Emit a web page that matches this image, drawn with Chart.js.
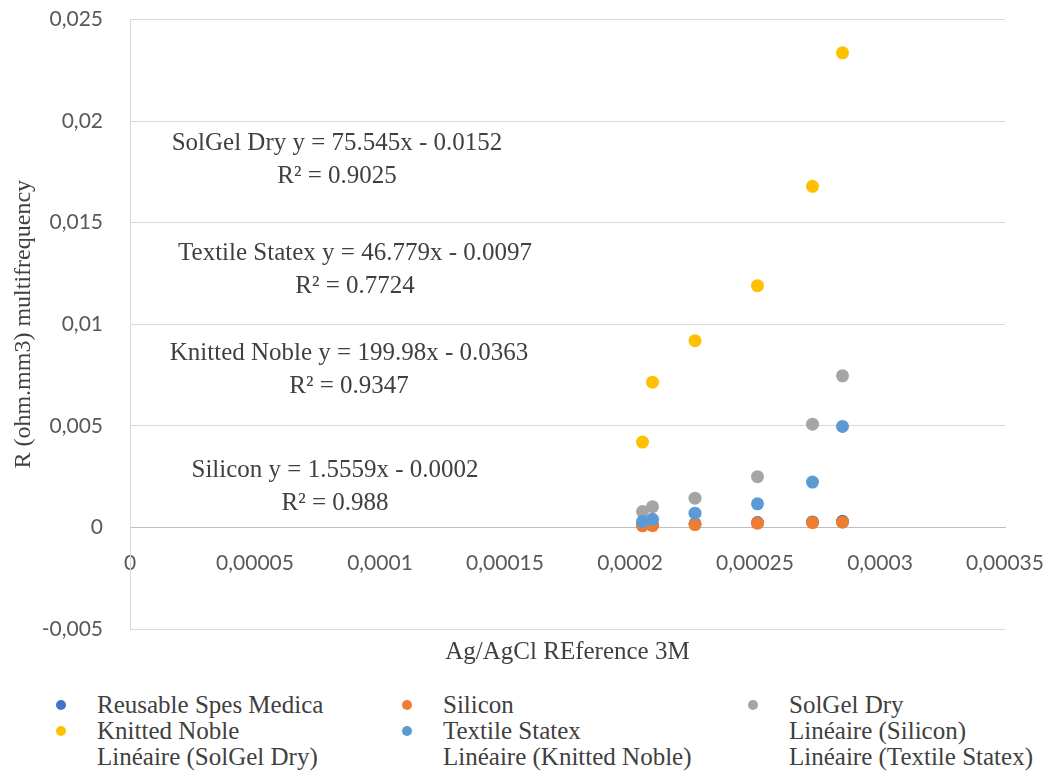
<!DOCTYPE html>
<html>
<head>
<meta charset="utf-8">
<script src="https://cdn.jsdelivr.net/npm/chart.js@4/dist/chart.umd.min.js"></script>
<style>
  html, body { margin: 0; padding: 0; background: #fff; }
  #wrap { position: relative; width: 1045px; height: 778px; overflow: hidden; }
  #c { position: absolute; left: 0; top: 0; }
  #legend {
    position: absolute; left: 56px; top: 692px;
    display: grid; grid-template-columns: 346px 346px 346px; grid-auto-rows: 26px;
    font-family: "Liberation Serif", "Times New Roman", serif; font-size: 25px; color: #404040;
  }
  #legend .item { display: flex; align-items: center; white-space: nowrap; line-height: 26px; }
  #legend .dot { width: 10px; height: 10px; border-radius: 50%; margin-right: 31px; flex: none; }
  #legend .nodot { width: 10px; height: 10px; margin-right: 31px; flex: none; }
</style>
</head>
<body>
<div id="wrap">
  <canvas id="c" width="1045" height="680"></canvas>
  <div id="legend"></div>
</div>
<script>
// Ag/AgCl reference values (x) shared by every electrode series
const referenceX = [0.000205, 0.000209, 0.000226, 0.000251, 0.000273, 0.000285];

// Resistance per electrode type (ohm.mm3)
const reusableSpesMedica = [0.00012, 0.00013, 0.00018, 0.00024, 0.00027, 0.00030];
const silicon            = [0.00008, 0.00009, 0.00014, 0.00021, 0.00024, 0.00026];
const solGelDry          = [0.00078, 0.00102, 0.00144, 0.00250, 0.00508, 0.00746];
const knittedNoble       = [0.00420, 0.00715, 0.00919, 0.01190, 0.01679, 0.02336];
const textileStatex      = [0.00029, 0.00040, 0.00070, 0.00116, 0.00223, 0.00497];

// Axis ticks
const xTickValues = [0, 0.00005, 0.0001, 0.00015, 0.0002, 0.00025, 0.0003, 0.00035];
const yTickValues = [-0.005, 0, 0.005, 0.01, 0.015, 0.02, 0.025];

// Linear trendlines (Excel "Linéaire")
const trendSeries    = ['SolGel Dry', 'Textile Statex', 'Knitted Noble', 'Silicon'];
const trendSlopes    = [75.545, 46.779, 199.98, 1.5559];
const trendIntercept = [-0.0152, -0.0097, -0.0363, -0.0002];
const trendR2        = [0.9025, 0.7724, 0.9347, 0.988];
// where each equation box is centred, in axis units
const trendLabelAt = [
  [0.0000828, 0.01810],
  [0.0000900, 0.01268],
  [0.0000876, 0.00773],
  [0.0000820, 0.00199]
];

const fmt = v => {
  const n = parseFloat(Number(v).toFixed(6));
  return String(n).replace('.', ',');
};

const points = ys => referenceX.map((x, i) => ({ x, y: ys[i] }));

const scatter = (label, ys, color, order) => ({
  type: 'scatter', label, data: points(ys), order,
  backgroundColor: color, borderColor: color, borderWidth: 0,
  pointRadius: 6.5, pointHoverRadius: 6.5
});
const trend = (label, order) => ({
  type: 'line', label, data: [], order,
  borderColor: 'rgba(0,0,0,0)', backgroundColor: 'rgba(0,0,0,0)',
  pointRadius: 0, borderWidth: 0, isTrend: true
});

const datasets = [
  scatter('Reusable Spes Medica', reusableSpesMedica, '#4472C4', 9),
  scatter('Silicon', silicon, '#ED7D31', 8),
  scatter('SolGel Dry', solGelDry, '#A5A5A5', 7),
  scatter('Knitted Noble', knittedNoble, '#FFC000', 6),
  scatter('Textile Statex', textileStatex, '#5B9BD5', 5),
  trend('Linéaire (Silicon)', 4),
  trend('Linéaire (SolGel Dry)', 3),
  trend('Linéaire (Knitted Noble)', 2),
  trend('Linéaire (Textile Statex)', 1)
];

const serif = '"Liberation Serif", "Times New Roman", serif';
const tickFont = { family: 'Lato, sans-serif', size: 21 };

const trendLabels = {
  id: 'trendLabels',
  afterDatasetsDraw(chart) {
    const { ctx, scales: { x, y } } = chart;
    ctx.save();
    ctx.font = '25px ' + serif;
    ctx.fillStyle = '#404040';
    ctx.textAlign = 'center';
    ctx.textBaseline = 'middle';
    trendSeries.forEach((name, i) => {
      const b = trendIntercept[i];
      const eq = name + ' y = ' + trendSlopes[i] + 'x ' + (b < 0 ? '- ' : '+ ') + Math.abs(b);
      const r2 = 'R² = ' + trendR2[i];
      const cx = x.getPixelForValue(trendLabelAt[i][0]);
      const cy = y.getPixelForValue(trendLabelAt[i][1]);
      ctx.fillText(eq, cx, cy - 16.5);
      ctx.fillText(r2, cx, cy + 16.5);
    });
    ctx.restore();
  }
};

const chart = new Chart(document.getElementById('c'), {
  data: { datasets },
  options: {
    responsive: false,
    animation: false,
    events: [],
    layout: { padding: { top: 19.5, right: 40, bottom: 0, left: 0 } },
    plugins: {
      legend: { display: false },
      tooltip: { enabled: false },
      title: {
        display: true, position: 'bottom', fullSize: false,
        text: 'Ag/AgCl REference 3M', color: '#404040',
        font: { family: serif, size: 25, weight: 'normal' },
        padding: { top: 8, bottom: 13 }
      }
    },
    scales: {
      x: {
        type: 'linear', position: { y: 0 }, min: 0, max: 0.00035,
        afterBuildTicks: s => { s.ticks = xTickValues.map(v => ({ value: v })); },
        afterFit: s => { s.paddingLeft = 0; s.paddingRight = 0; },
        grid: { display: false, drawTicks: false },
        border: { display: true, color: '#BFBFBF', width: 1 },
        ticks: { padding: 23, color: '#595959', font: tickFont, maxRotation: 0, autoSkip: false, callback: fmt }
      },
      y: {
        type: 'linear', min: -0.005, max: 0.025,
        afterBuildTicks: s => { s.ticks = yTickValues.map(v => ({ value: v })); },
        afterFit: s => { s.width = 130; s.paddingTop = 0; s.paddingBottom = 0; },
        grid: { color: '#D9D9D9', drawTicks: false },
        border: { display: true, color: '#D9D9D9', width: 1 },
        ticks: { padding: 27, color: '#595959', font: tickFont, callback: fmt },
        title: {
          display: true, text: 'R (ohm.mm3) multifrequency', color: '#404040',
          font: { family: serif, size: 24 }, padding: { top: 9, bottom: 0 }
        }
      }
    }
  },
  plugins: [trendLabels]
});

// three-column legend built from the chart's datasets
const legend = document.getElementById('legend');
chart.data.datasets.forEach(ds => {
  const item = document.createElement('div');
  item.className = 'item';
  const mark = document.createElement('span');
  if (ds.isTrend) {
    mark.className = 'nodot';
  } else {
    mark.className = 'dot';
    mark.style.background = ds.backgroundColor;
  }
  const txt = document.createElement('span');
  txt.textContent = ds.label;
  item.appendChild(mark);
  item.appendChild(txt);
  legend.appendChild(item);
});
</script>
</body>
</html>
